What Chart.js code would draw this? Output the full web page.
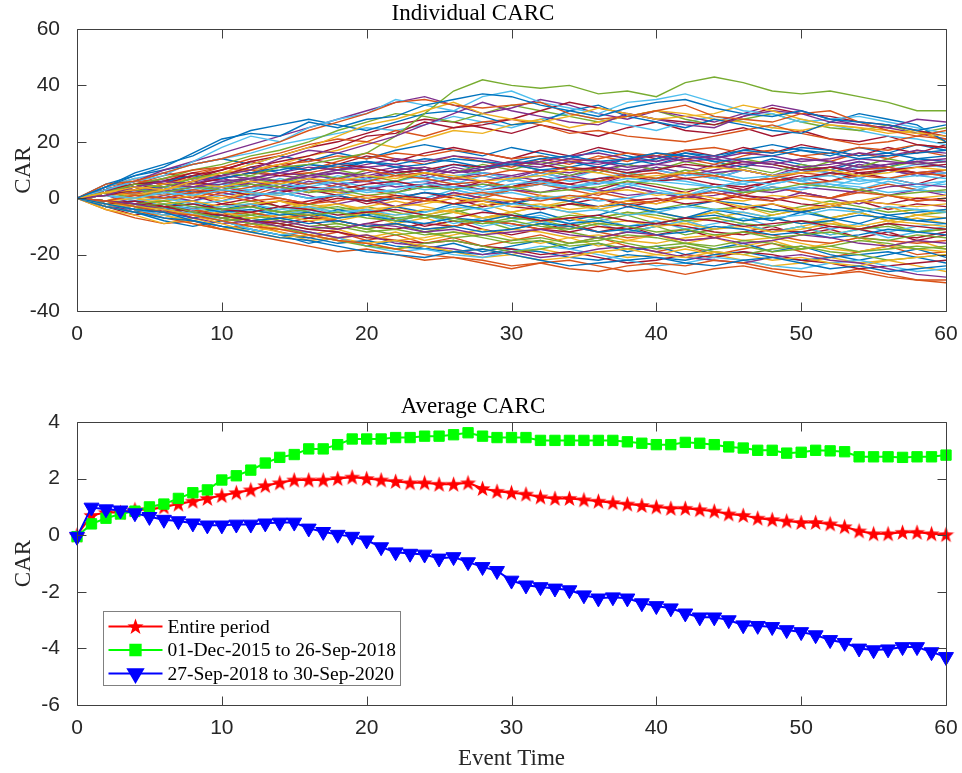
<!DOCTYPE html>
<html>
<head>
<meta charset="utf-8">
<title>CARC</title>
<script src="https://cdn.jsdelivr.net/npm/chart.js@4.4.1/dist/chart.umd.min.js"></script>
<style>
  html, body { margin: 0; padding: 0; background: #fff; }
  #wrap { position: relative; width: 962px; height: 773px; }
  #topChart { position: absolute; left: 0; top: 0; }
  #bottomChart { position: absolute; left: 0; top: 345px; }
</style>
</head>
<body>
<div id="wrap">
  <canvas id="topChart" width="962" height="345"></canvas>
  <canvas id="bottomChart" width="962" height="428"></canvas>
</div>
<script>
// ---- data ----
const eventTimeCoarse = [0,2,4,6,8,10,12,14,16,18,20,22,24,26,28,30,32,34,36,38,40,42,44,46,48,50,52,54,56,58,60];
const eventTime = [0,1,2,3,4,5,6,7,8,9,10,11,12,13,14,15,16,17,18,19,20,21,22,23,24,25,26,27,28,29,30,
  31,32,33,34,35,36,37,38,39,40,41,42,43,44,45,46,47,48,49,50,51,52,53,54,55,56,57,58,59,60];

const upperLines = [
  [0,4,8,11,16,21,23,22,27,25,28,29,33,35,37,36,33,31,29,32,34,35,32,30,29,31,28,27,26,24,26],
  [0,5,6,9,12,14,17,20,24,27,30,34,35,33,32,33,34,30,28,29,31,33,29,28,27,30,31,27,24,22,24],
  [0,2,4,3,6,9,12,15,18,22,26,28,31,34,30,28,27,29,32,30,28,29,30,33,31,28,26,25,24,23,22],
  [0,1,4,6,5,8,10,14,17,16,19,22,26,30,34,31,29,27,26,30,28,26,25,29,31,30,27,26,25,28,27],
  [0,2,5,4,7,9,8,11,12,14,16,22,30,38,42,40,39,40,37,38,36,41,43,41,38,37,38,36,34,31,31],
  [0,3,6,8,13,18,22,20,25,28,30,35,33,31,36,38,34,32,30,34,35,37,34,31,30,27,28,29,27,25,23],
  [0,3,5,6,9,8,11,13,15,18,22,23,27,25,26,28,31,34,32,30,28,27,26,29,32,30,29,27,26,24,22],
  [0,4,9,12,15,20,24,26,28,26,24,27,30,31,29,26,27,31,33,29,27,25,28,26,24,23,27,30,28,26,20],
  [0,3,5,8,10,11,14,16,19,21,20,24,22,25,27,28,26,23,24,22,21,20,22,24,26,23,21,19,20,22,21],
  [0,2,3,5,7,9,10,12,15,17,20,18,21,24,23,26,28,25,27,29,31,30,28,27,25,24,26,25,23,24,20],
  [0,3,6,10,13,16,19,22,25,28,31,34,36,33,30,32,35,33,30,28,31,29,27,30,33,31,28,26,25,23,21],
  [0,2,5,7,10,12,15,17,20,24,27,30,29,27,30,33,31,29,27,29,31,28,26,28,30,27,25,24,26,23,25],
  [0,4,7,9,12,14,16,19,21,23,25,24,26,29,27,25,28,30,28,26,24,27,29,27,25,28,26,24,22,21,19],
  [0,1,3,5,8,10,13,15,18,20,23,26,28,27,25,23,26,24,22,25,27,24,23,25,22,24,21,20,22,19,18]
];
const lowerLines = [
  [0,-2,-4,-5,-8,-10,-12,-14,-15,-17,-19,-20,-21,-19,-18,-20,-22,-24,-23,-22,-21,-23,-24,-22,-21,-23,-25,-24,-26,-25,-24],
  [0,-1,-3,-5,-6,-8,-10,-11,-13,-15,-16,-18,-20,-21,-22,-24,-23,-25,-26,-24,-23,-24,-22,-23,-25,-26,-27,-26,-28,-29,-29],
  [0,-2,-3,-4,-6,-9,-12,-14,-13,-15,-16,-15,-17,-19,-18,-20,-22,-21,-19,-18,-20,-21,-19,-20,-22,-21,-23,-24,-22,-21,-20],
  [0,-1,-2,-4,-7,-9,-8,-10,-12,-14,-13,-16,-17,-18,-20,-19,-21,-20,-18,-17,-19,-21,-22,-23,-21,-20,-22,-23,-25,-27,-28],
  [0,-1,-3,-2,-5,-7,-9,-10,-13,-15,-17,-18,-16,-15,-17,-19,-18,-16,-14,-16,-18,-17,-19,-20,-18,-17,-19,-20,-22,-21,-20],
  [0,-2,-4,-6,-5,-8,-11,-13,-12,-14,-17,-19,-18,-20,-21,-19,-17,-18,-20,-22,-24,-23,-21,-22,-24,-25,-23,-22,-24,-26,-25],
  [0,-1,-2,-3,-5,-6,-8,-9,-11,-12,-14,-15,-16,-15,-17,-18,-20,-19,-21,-23,-22,-20,-21,-19,-20,-22,-23,-25,-24,-23,-22],
  [0,-3,-5,-7,-8,-10,-11,-13,-14,-16,-15,-17,-18,-19,-20,-18,-19,-21,-22,-20,-21,-22,-20,-19,-21,-22,-21,-20,-19,-21,-23],
  [0,-2,-4,-7,-9,-11,-13,-15,-17,-19,-18,-20,-22,-21,-23,-25,-23,-22,-24,-26,-25,-27,-25,-24,-26,-28,-27,-25,-27,-29,-30],
  [0,-3,-5,-6,-9,-11,-10,-12,-15,-14,-16,-18,-17,-19,-21,-20,-18,-20,-19,-21,-20,-18,-20,-22,-24,-23,-21,-23,-22,-24,-26]
];
const bandLines = [
  [0,2,3,5,4,6,7,9,8,10,11,12,10,9,11,13,12,14,13,11,12,14,15,13,12,14,13,11,12,13,14],
  [0,-1,-2,-1,-3,-4,-3,-5,-6,-5,-7,-8,-6,-7,-9,-8,-10,-11,-9,-10,-12,-11,-13,-12,-14,-13,-12,-14,-15,-13,-14],
  [0,1,0,2,1,3,2,1,3,4,2,3,5,4,3,5,6,4,5,7,6,5,4,6,5,7,8,6,7,5,6],
  [0,-2,-1,-3,-2,-4,-5,-3,-4,-6,-5,-4,-6,-7,-5,-6,-8,-7,-6,-8,-9,-7,-8,-10,-9,-8,-10,-11,-9,-10,-11],
  [0,3,5,6,8,7,9,11,10,12,13,11,12,14,13,12,14,15,13,14,16,15,13,14,15,17,16,14,15,16,17],
  [0,-1,1,0,2,1,-1,0,-2,-1,1,0,-1,1,2,0,-1,1,0,-2,-1,1,2,0,-1,1,0,2,1,-1,0],
  [0,2,1,3,5,4,6,5,7,6,8,7,9,8,6,7,8,10,9,7,8,9,11,10,8,9,10,8,9,11,10],
  [0,-3,-4,-6,-5,-7,-9,-8,-10,-11,-9,-10,-12,-11,-13,-12,-11,-13,-14,-12,-13,-15,-14,-16,-15,-13,-14,-16,-17,-15,-16],
  [0,1,3,2,4,3,5,4,2,3,1,2,4,3,5,4,2,3,4,6,5,3,4,2,3,5,4,3,1,2,3],
  [0,-1,-3,-2,-4,-3,-2,-4,-3,-5,-4,-6,-5,-3,-4,-2,-3,-5,-4,-6,-5,-3,-4,-5,-7,-6,-4,-5,-3,-4,-5],
  [0,2,4,6,5,7,9,8,10,12,11,9,10,12,11,13,12,10,11,9,10,12,11,13,12,10,11,9,10,11,12],
  [0,-2,-3,-5,-7,-6,-8,-7,-9,-8,-10,-9,-11,-10,-12,-11,-9,-10,-12,-11,-13,-12,-10,-11,-13,-12,-14,-13,-11,-12,-13],
  [0,1,2,1,3,2,4,6,5,7,6,8,7,5,6,4,5,7,6,8,7,9,8,6,7,5,6,8,7,9,8],
  [0,-1,0,-2,-1,-3,-2,-1,-3,-2,-4,-3,-2,0,-1,-3,-2,-4,-3,-1,-2,0,-1,-3,-2,-4,-3,-1,-2,-3,-2],
  [0,3,2,4,6,8,7,9,11,10,12,14,13,15,14,12,13,15,16,14,13,15,14,16,15,13,14,16,15,17,16],
  [0,-2,-4,-3,-5,-7,-6,-8,-10,-9,-11,-13,-12,-14,-13,-15,-14,-16,-15,-13,-14,-16,-17,-15,-16,-18,-17,-15,-16,-18,-17],
  [0,1,-1,0,-2,-1,1,2,0,1,3,2,4,3,1,2,0,1,-1,0,2,1,3,2,4,3,5,4,2,3,2],
  [0,2,1,0,2,3,1,2,4,3,5,6,4,5,3,4,6,5,7,8,6,7,5,4,6,7,9,8,10,9,8],
  [0,-1,-2,-4,-3,-5,-4,-6,-5,-7,-6,-8,-9,-7,-8,-6,-7,-9,-8,-10,-9,-7,-6,-8,-7,-9,-8,-6,-7,-8,-9],
  [0,4,6,5,7,9,10,8,9,11,10,8,9,7,8,10,9,11,10,8,9,7,8,6,7,9,8,10,11,9,10],
  [0,-3,-2,-4,-6,-5,-7,-6,-8,-7,-5,-6,-4,-5,-7,-6,-8,-7,-9,-8,-10,-9,-11,-10,-12,-11,-9,-10,-8,-9,-10],
  [0,2,3,2,4,5,7,6,8,9,8,10,11,9,10,12,11,13,12,14,15,13,14,12,13,11,12,14,13,12,13],
  [0,-1,-3,-4,-6,-8,-7,-9,-11,-10,-12,-11,-13,-12,-14,-16,-15,-17,-16,-18,-17,-16,-18,-17,-19,-18,-17,-19,-18,-17,-18],
  [0,1,2,4,3,5,4,3,5,6,4,5,3,4,2,3,5,4,6,5,7,6,4,5,3,4,6,5,7,8,7],
  [0,-2,-1,-3,-4,-2,-3,-1,-2,0,-1,1,0,-2,-1,-3,-4,-2,-3,-1,0,-2,-1,1,0,-2,-3,-1,-2,0,-1],
  [0,3,4,6,8,7,9,10,12,11,13,12,14,13,11,12,10,11,13,12,14,16,15,17,16,18,17,15,16,14,15],
  [0,-2,-3,-2,-4,-6,-5,-7,-6,-8,-10,-9,-11,-10,-8,-9,-11,-10,-12,-14,-13,-15,-14,-12,-13,-15,-16,-14,-15,-16,-15],
  [0,1,0,-1,1,0,2,1,3,2,0,1,-1,-2,0,-1,1,0,2,3,1,2,0,-1,1,0,-2,-1,1,0,1],
  [0,2,4,3,5,4,6,8,7,5,6,4,5,7,6,8,10,9,11,10,12,11,9,10,8,9,11,10,12,13,11],
  [0,-1,-2,-3,-2,-4,-3,-5,-4,-3,-5,-7,-6,-8,-9,-7,-8,-6,-7,-5,-6,-8,-7,-9,-10,-8,-9,-11,-10,-12,-11],
  [0,2,3,1,2,4,3,5,4,6,7,5,6,8,9,7,8,6,7,9,10,8,9,7,8,10,9,11,10,12,11],
  [0,-2,-4,-5,-4,-6,-8,-9,-7,-8,-10,-11,-9,-10,-8,-9,-11,-12,-10,-11,-9,-10,-12,-13,-11,-12,-10,-11,-13,-14,-12],
  [0,1,3,4,2,3,1,2,0,1,-1,0,2,1,-1,-2,0,-1,-3,-2,-4,-3,-1,-2,-4,-5,-3,-4,-6,-5,-4],
  [0,3,5,7,9,11,10,12,13,15,14,16,15,17,16,14,15,13,14,16,15,17,18,16,17,15,16,18,17,19,18],
  [0,-1,-3,-5,-6,-7,-9,-11,-12,-14,-13,-15,-14,-12,-13,-11,-12,-14,-13,-15,-16,-14,-13,-15,-14,-16,-18,-19,-17,-18,-19],
  [0,2,1,3,2,4,5,3,4,2,3,5,6,4,5,3,2,4,3,1,2,0,1,3,2,4,3,2,4,5,4],
  [0,3,1,4,2,5,8,6,9,7,10,8,11,9,12,10,13,11,9,12,10,13,11,14,12,10,13,11,14,12,13],
  [0,-3,-1,-4,-2,-5,-3,-6,-4,-7,-5,-8,-6,-9,-7,-10,-8,-11,-9,-12,-10,-8,-11,-9,-12,-10,-13,-11,-14,-12,-10],
  [0,2,5,3,6,4,2,5,3,1,4,2,5,3,6,4,7,5,3,6,4,2,5,3,6,8,6,9,7,5,8],
  [0,-2,-5,-3,-1,-4,-2,-5,-7,-4,-6,-3,-5,-2,-4,-7,-5,-8,-6,-3,-5,-7,-4,-6,-8,-5,-7,-9,-6,-8,-7],
  [0,4,7,5,8,11,9,12,10,13,16,14,12,15,13,11,14,12,15,13,16,14,12,15,17,15,13,16,14,17,15],
  [0,-4,-6,-9,-7,-10,-12,-10,-13,-11,-14,-12,-15,-13,-11,-14,-16,-14,-17,-15,-13,-16,-14,-17,-15,-18,-16,-14,-17,-15,-18],
  [0,1,-2,1,-1,2,0,3,1,-2,0,-3,-1,2,0,-2,1,-1,2,4,2,0,3,1,-1,2,0,-2,1,3,1],
  [0,2,0,3,6,4,7,5,8,10,8,6,9,7,10,12,10,8,11,9,7,10,8,11,9,12,10,8,11,13,11],
  [0,-2,0,-3,-6,-4,-7,-5,-3,-6,-4,-7,-9,-7,-10,-8,-6,-9,-7,-10,-8,-11,-9,-7,-10,-8,-11,-9,-12,-10,-9],
  [0,3,6,9,7,10,13,11,14,12,15,13,16,18,16,14,17,15,18,16,14,17,15,18,16,19,17,15,18,16,19],
  [0,-3,-5,-8,-10,-8,-11,-13,-16,-14,-17,-15,-18,-16,-19,-17,-15,-18,-16,-19,-17,-20,-18,-16,-19,-17,-20,-22,-20,-18,-21],
  [0,1,4,2,0,3,1,4,2,5,3,1,-1,2,0,3,5,3,1,4,2,0,3,1,4,2,0,3,5,3,2],
  [0,-1,2,0,-2,-5,-3,-1,-4,-2,-5,-3,-6,-4,-2,-5,-3,-1,-4,-2,-5,-7,-5,-3,-6,-4,-2,-5,-3,-6,-4],
  [0,2,4,7,5,3,6,4,7,9,7,10,8,11,9,7,10,8,6,9,11,9,12,10,8,11,9,12,10,8,10],
  [0,-2,-4,-2,-5,-7,-5,-8,-6,-9,-11,-9,-12,-10,-8,-11,-9,-12,-14,-12,-10,-13,-11,-9,-12,-10,-13,-11,-9,-12,-11],
  [0,3,5,3,1,4,6,4,7,5,3,6,8,6,4,7,5,3,6,4,7,9,7,5,8,6,4,7,5,3,6],
  [0,-1,-3,-1,1,-2,0,-3,-1,1,-2,0,2,0,-3,-1,-4,-2,0,-3,-1,1,-1,-4,-2,-5,-3,-1,-4,-2,-3],
  [0,5,8,10,12,14,12,15,13,16,14,17,19,17,15,18,16,14,17,15,13,16,14,17,19,17,15,18,16,19,17],
  [0,-4,-7,-9,-8,-11,-9,-12,-14,-12,-15,-13,-16,-14,-17,-15,-13,-16,-14,-17,-19,-17,-20,-18,-16,-19,-21,-19,-17,-20,-19],
  [0,2,1,-1,1,-1,-3,-1,-3,-5,-3,-1,-3,-5,-7,-5,-3,-5,-7,-5,-7,-9,-7,-5,-7,-9,-7,-5,-8,-6,-7],
  [0,1,3,5,7,6,4,6,8,7,9,11,9,7,9,8,6,8,10,12,10,8,10,12,11,9,11,13,11,9,10],
  [0,-2,-1,-3,-5,-4,-6,-4,-2,-4,-3,-5,-7,-5,-3,-1,-3,-2,-4,-6,-4,-2,-4,-3,-5,-3,-1,-3,-5,-4,-5],
  [0,4,2,5,3,6,4,7,5,8,6,9,7,5,8,6,9,7,10,8,11,9,7,10,8,6,9,7,10,8,9],
  [0,-3,-6,-4,-7,-5,-8,-10,-8,-11,-9,-7,-10,-8,-11,-13,-11,-9,-12,-10,-13,-11,-14,-12,-10,-13,-11,-14,-12,-15,-13],
  [0,2,4,3,6,8,11,9,12,10,13,11,9,12,10,13,15,13,11,14,12,15,13,11,14,12,10,13,11,14,13],
  [0,-1,1,3,1,-1,2,0,-2,1,-1,-3,0,-2,1,3,1,-1,2,0,-2,1,-1,2,4,2,0,3,1,-1,0],
  [0,-2,-4,-6,-8,-6,-9,-7,-5,-8,-6,-9,-7,-10,-8,-6,-9,-7,-10,-12,-10,-8,-11,-9,-12,-10,-8,-11,-9,-7,-9],
  [0,3,4,2,5,7,5,3,6,4,7,9,7,10,8,6,9,7,5,8,6,9,7,10,8,6,9,12,10,8,9],
  [0,-1,-3,-2,-4,-3,-1,-3,-5,-7,-5,-8,-6,-4,-7,-5,-8,-10,-8,-6,-9,-7,-5,-8,-6,-4,-7,-5,-8,-6,-5],
  [0,1,2,0,-1,1,3,5,3,1,4,2,0,3,1,4,6,4,2,5,3,1,4,2,5,7,5,3,6,4,5]
];

// average CAR per period
const entirePeriod = [0,0.7,0.8,0.8,0.9,0.9,1.0,1.1,1.2,1.3,
  1.4,1.5,1.6,1.75,1.85,1.95,1.95,1.95,2.0,2.05,
  2.0,1.95,1.9,1.85,1.85,1.8,1.8,1.85,1.65,1.55,
  1.5,1.45,1.35,1.3,1.3,1.25,1.2,1.15,1.1,1.05,
  1.0,0.95,0.95,0.9,0.85,0.75,0.7,0.6,0.55,0.5,
  0.45,0.45,0.4,0.3,0.15,0.05,0.05,0.1,0.1,0.05,0.02];
const period2015to2018 = [-0.05,0.4,0.6,0.75,0.85,1.0,1.1,1.3,1.5,1.6,
  1.95,2.1,2.3,2.55,2.75,2.85,3.05,3.05,3.2,3.4,
  3.4,3.4,3.45,3.45,3.5,3.5,3.55,3.62,3.5,3.45,
  3.45,3.45,3.35,3.35,3.35,3.35,3.35,3.35,3.3,3.25,
  3.2,3.2,3.28,3.25,3.2,3.12,3.08,3.0,3.0,2.9,
  2.93,3.0,2.98,2.95,2.77,2.77,2.77,2.75,2.77,2.77,2.83];
const period2018to2020 = [-0.05,0.98,0.92,0.88,0.78,0.65,0.55,0.5,0.42,0.35,
  0.35,0.38,0.38,0.42,0.45,0.45,0.24,0.12,0.02,-0.05,
  -0.18,-0.42,-0.6,-0.65,-0.68,-0.82,-0.77,-0.95,-1.12,-1.26,
  -1.6,-1.77,-1.83,-1.88,-1.94,-2.12,-2.23,-2.19,-2.23,-2.4,
  -2.5,-2.58,-2.76,-2.9,-2.9,-3.0,-3.18,-3.2,-3.24,-3.35,
  -3.42,-3.53,-3.7,-3.8,-4.0,-4.06,-4.03,-3.95,-3.95,-4.13,-4.3];
const seriesNames = ['Entire period', '01-Dec-2015 to 26-Sep-2018', '27-Sep-2018 to 30-Sep-2020'];

const xTicks = [0,10,20,30,40,50,60];
const topYTicks = [-40,-20,0,20,40,60];
const bottomYTicks = [-6,-4,-2,0,2,4];

// ---- styling ----
const matlabColors = ['#0072BD','#D95319','#EDB120','#7E2F8E','#77AC30','#4DBEEE','#A2142F'];
const AXIS = '#404040';
const TICK_FONT = { family: '"Liberation Sans", Arial, sans-serif', size: 21 };
const SERIF = '"Liberation Serif", "Times New Roman", serif';

// filled five point star for the "Entire period" markers
function makeStar(size, color) {
  const c = document.createElement('canvas');
  c.width = size; c.height = size;
  const g = c.getContext('2d');
  const cx = size / 2, cy = size / 2 + 0.6, R = size / 2, r = R * 0.4;
  g.beginPath();
  for (let i = 0; i < 10; i++) {
    const ang = -Math.PI / 2 + i * Math.PI / 5;
    const rad = i % 2 ? r : R;
    g.lineTo(cx + rad * Math.cos(ang), cy + rad * Math.sin(ang));
  }
  g.closePath();
  g.fillStyle = color;
  g.fill();
  return c;
}
const starImg = makeStar(17, '#ff0000');

// box around plot area + inward ticks on all four sides, like matlab
const matlabAxes = {
  id: 'matlabAxes',
  afterDraw(chart) {
    const { ctx, chartArea: a, scales } = chart;
    const L = Math.round(a.left) + 0.5, R = Math.round(a.right) + 0.5;
    const T = Math.round(a.top) + 0.5, B = Math.round(a.bottom) + 0.5;
    ctx.save();
    ctx.strokeStyle = AXIS;
    ctx.lineWidth = 1;
    ctx.beginPath();
    scales.x.ticks.forEach(t => {
      const px = Math.round(scales.x.getPixelForValue(t.value)) + 0.5;
      ctx.moveTo(px, B); ctx.lineTo(px, B - 9);
      ctx.moveTo(px, T); ctx.lineTo(px, T + 9);
    });
    scales.y.ticks.forEach(t => {
      const py = Math.round(scales.y.getPixelForValue(t.value)) + 0.5;
      ctx.moveTo(L, py); ctx.lineTo(L + 9, py);
      ctx.moveTo(R, py); ctx.lineTo(R - 9, py);
    });
    ctx.rect(L, T, R - L, B - T);
    ctx.stroke();
    ctx.restore();
  }
};

// matlab style legend box in the lower left of the axes
const boxLegend = {
  id: 'boxLegend',
  afterDraw(chart) {
    const { ctx, chartArea: a } = chart;
    const x0 = Math.round(a.left) + 26.5, w = 297, h = 74;
    const y0 = Math.round(a.bottom) - 19.5 - h;
    ctx.save();
    ctx.fillStyle = '#fff';
    ctx.fillRect(x0, y0, w, h);
    ctx.strokeStyle = '#808080';
    ctx.lineWidth = 1;
    ctx.strokeRect(x0, y0, w, h);
    ctx.font = '19.5px ' + SERIF;
    ctx.textBaseline = 'middle';
    chart.data.datasets.forEach((ds, i) => {
      const y = y0 + 15 + i * 23.5;
      ctx.strokeStyle = ds.borderColor;
      ctx.lineWidth = 2;
      ctx.beginPath();
      ctx.moveTo(x0 + 5, y); ctx.lineTo(x0 + 59, y);
      ctx.stroke();
      ctx.fillStyle = ds.pointBackgroundColor;
      Chart.helpers.drawPoint(ctx, {
        pointStyle: ds.pointStyle, rotation: ds.pointRotation || 0,
        radius: ds.pointRadius, borderWidth: 1
      }, x0 + 32, y);
      ctx.fillStyle = '#000';
      ctx.fillText(ds.label, x0 + 64, y + 1);
    });
    ctx.restore();
  }
};

function axes(xTickVals, yTickVals, yMin, yMax, xHeight, withXTitle) {
  return {
    x: {
      type: 'linear', min: 0, max: 60,
      afterBuildTicks: s => { s.ticks = xTickVals.map(v => ({ value: v })); },
      afterFit: s => { s.height = xHeight; },
      grid: { display: false },
      border: { display: false },
      ticks: { font: TICK_FONT, color: '#262626', padding: 3, maxRotation: 0 },
      title: {
        display: withXTitle, text: 'Event Time', color: '#262626',
        font: { family: SERIF, size: 23 }, padding: { top: 0, bottom: 0 }
      }
    },
    y: {
      min: yMin, max: yMax,
      afterBuildTicks: s => { s.ticks = yTickVals.map(v => ({ value: v })); },
      afterFit: s => { s.width = 77; },
      grid: { display: false },
      border: { display: false },
      ticks: { font: TICK_FONT, color: '#262626', padding: 9 },
      title: {
        display: true, text: 'CAR', color: '#262626',
        font: { family: SERIF, size: 23 }, padding: { top: 10, bottom: 0 }
      }
    }
  };
}

// ---- top: individual CARC ----
const individual = upperLines.concat(lowerLines, bandLines);
new Chart(document.getElementById('topChart'), {
  type: 'line',
  data: {
    datasets: individual.map((vals, i) => ({
      data: vals.map((v, k) => ({ x: eventTimeCoarse[k], y: v })),
      borderColor: matlabColors[i % matlabColors.length],
      borderWidth: 1.4,
      pointRadius: 0,
      tension: 0
    }))
  },
  options: {
    responsive: false,
    animation: false,
    events: [],
    layout: { padding: { top: 0, right: 16, bottom: 0, left: 0 } },
    plugins: {
      legend: { display: false },
      tooltip: { enabled: false },
      title: {
        display: true, text: 'Individual CARC', color: '#000',
        font: { family: SERIF, size: 23, weight: 'normal' },
        padding: { top: 0, bottom: 1.4 }
      }
    },
    scales: axes(xTicks, topYTicks, -40, 60, 34, false)
  },
  plugins: [matlabAxes]
});

// ---- bottom: average CARC ----
function avgSeries(label, vals, color, style, radius, rotation, order) {
  return {
    label: label,
    data: vals.map((v, k) => ({ x: eventTime[k], y: v })),
    borderColor: color,
    backgroundColor: color,
    pointBackgroundColor: color,
    pointBorderColor: color,
    borderWidth: 2,
    pointStyle: style,
    pointRadius: radius,
    pointRotation: rotation,
    pointBorderWidth: 1,
    tension: 0,
    clip: 20,
    order: order
  };
}
new Chart(document.getElementById('bottomChart'), {
  type: 'line',
  data: {
    datasets: [
      avgSeries(seriesNames[0], entirePeriod, '#ff0000', starImg, 8, 0, 3),
      avgSeries(seriesNames[1], period2015to2018, '#00ff00', 'rect', 7.3, 0, 2),
      avgSeries(seriesNames[2], period2018to2020, '#0000ff', 'triangle', 8.6, 180, 1)
    ]
  },
  options: {
    responsive: false,
    animation: false,
    events: [],
    layout: { padding: { top: 0, right: 16, bottom: 0, left: 0 } },
    plugins: {
      legend: { display: false },
      tooltip: { enabled: false },
      title: {
        display: true, text: 'Average CARC', color: '#000',
        font: { family: SERIF, size: 23, weight: 'normal' },
        padding: { top: 48.2, bottom: 1.2 }
      }
    },
    scales: axes(xTicks, bottomYTicks, -6, 4, 68, true)
  },
  plugins: [matlabAxes, boxLegend]
});
</script>
</body>
</html>
